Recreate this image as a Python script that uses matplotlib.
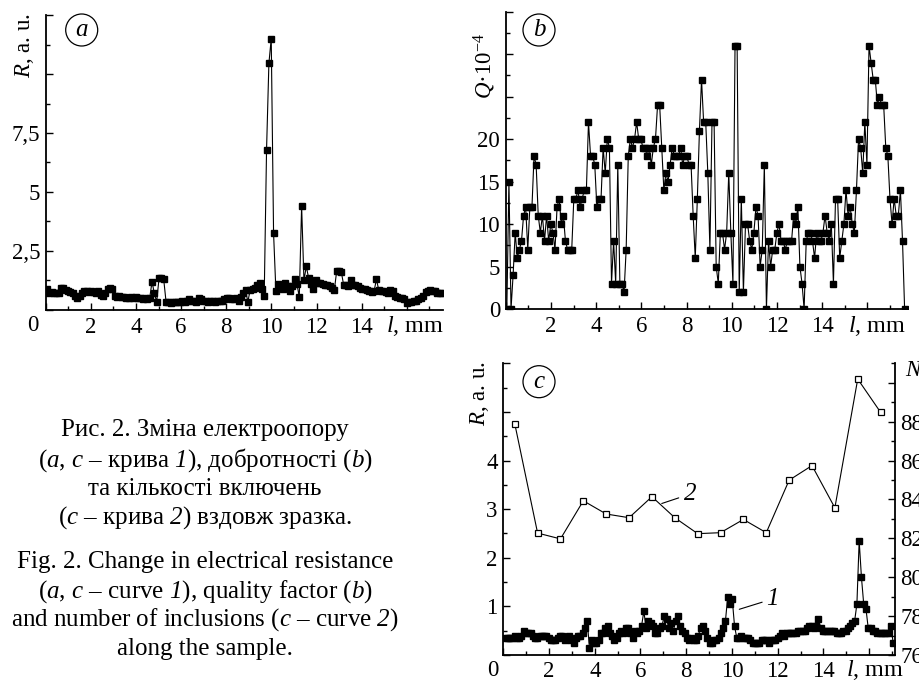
import numpy as np
import matplotlib
matplotlib.use("Agg")
import matplotlib.pyplot as plt
from matplotlib.ticker import MultipleLocator, FixedLocator, FixedFormatter

plt.rcParams['font.family'] = ['Liberation Serif', 'DejaVu Serif']
plt.rcParams['font.size'] = 16.5
plt.rcParams['mathtext.fontset'] = 'custom'
plt.rcParams['mathtext.rm'] = 'Liberation Serif'
plt.rcParams['mathtext.it'] = 'Liberation Serif:italic'
plt.rcParams['mathtext.sf'] = 'Liberation Serif:italic'

# ---------------- data ----------------
# panel a: resistance R (a.u.) along sample, l from 0.05 to 17.55 mm
a_l_start, a_l_end = 0.05, 17.55
a_R = [0.9,0.7,0.75,0.7,0.7,0.7,0.95,0.95,0.85,0.8,0.75,0.7,0.6,0.5,0.6,0.7,0.8,0.8,0.75,0.8,
       0.75,0.7,0.8,0.65,0.6,0.7,0.9,0.95,0.9,0.6,0.55,0.6,0.55,0.55,0.5,0.5,0.55,0.5,0.55,0.5,
       0.5,0.45,0.5,0.45,0.5,1.2,0.7,0.35,1.35,1.35,1.3,0.35,0.35,0.3,0.35,0.35,0.35,0.35,0.4,0.35,
       0.4,0.45,0.4,0.4,0.35,0.5,0.45,0.4,0.4,0.35,0.4,0.4,0.35,0.4,0.4,0.4,0.45,0.5,0.5,0.45,
       0.45,0.5,0.4,0.55,0.7,0.85,0.35,0.85,0.9,0.95,1.05,1.15,0.9,0.6,6.8,10.45,11.5,3.25,0.8,1.1,
       1.05,0.9,1.15,1.0,0.8,1.0,1.3,1.1,0.55,4.4,1.25,1.85,1.35,1.1,0.9,1.25,1.15,1.15,1.1,1.05,
       1.05,1.0,0.95,0.85,1.65,1.65,1.6,1.05,1.05,1.0,1.25,1.05,1.05,1.0,0.95,0.9,0.9,0.85,0.8,0.75,
       0.8,1.3,0.85,0.8,0.8,0.75,0.7,0.85,0.8,0.6,0.55,0.5,0.5,0.45,0.3,0.35,0.35,0.4,0.4,0.45,
       0.5,0.6,0.75,0.8,0.85,0.8,0.8,0.7,0.7,0.7]

# panel b: quality factor Q*1e-4, l from 0.05 to 17.65 mm
b_l_start, b_l_end = 0.05, 17.65
b_Q = [0,15,0,4,9,6,7,8,11,12,7,12,12,18,17,11,9,11,8,11,8,10,9,7,12,13,10,11,8,7,
       7,7,13,13,14,12,13,14,14,22,18,18,17,12,13,13,19,16,20,19,3,8,3,17,3,3,2,7,18,20,
       19,20,22,20,20,19,19,18,19,17,19,20,24,24,19,14,16,15,17,19,18,18,18,19,17,18,18,17,17,11,
       6,13,21,27,22,22,16,7,22,22,5,3,9,9,7,9,16,9,3,31,31,2,13,2,10,10,8,7,9,12,
       11,5,7,17,0,8,5,7,7,9,10,8,8,7,8,8,8,11,10,12,5,3,0,8,9,9,8,6,9,8,
       8,9,11,9,8,10,3,13,13,6,8,10,14,11,12,10,9,14,20,19,16,22,17,31,29,27,27,24,25,24,
       24,19,18,13,10,13,11,11,14,8,0]

# panel c, curve 1: R (a.u.), l from 0.1 to 17.05 mm
c_l_start, c_l_end = 0.1, 17.05
c_R1 = [0.35,0.35,0.35,0.35,0.4,0.35,0.35,0.4,0.5,0.45,0.45,0.45,0.4,0.35,0.35,0.4,0.4,0.4,0.4,0.35,
        0.3,0.3,0.3,0.35,0.4,0.4,0.3,0.35,0.4,0.3,0.25,0.35,0.4,0.4,0.45,0.55,0.7,0.15,0.3,0.25,
        0.25,0.3,0.45,0.45,0.55,0.6,0.45,0.4,0.3,0.35,0.45,0.5,0.45,0.55,0.55,0.45,0.35,0.5,0.45,0.5,
        0.6,0.9,0.55,0.7,0.65,0.6,0.45,0.45,0.55,0.6,0.8,0.75,0.55,0.65,0.5,0.7,0.8,0.6,0.5,0.45,
        0.35,0.3,0.35,0.3,0.3,0.4,0.55,0.6,0.5,0.35,0.25,0.25,0.3,0.3,0.35,0.45,0.55,0.7,1.2,1.05,
        1.15,0.6,0.35,0.35,0.4,0.35,0.35,0.35,0.3,0.25,0.25,0.25,0.25,0.3,0.3,0.3,0.25,0.3,0.3,0.3,
        0.35,0.4,0.45,0.4,0.45,0.45,0.45,0.45,0.45,0.5,0.5,0.5,0.5,0.55,0.6,0.6,0.55,0.6,0.75,0.55,
        0.5,0.5,0.5,0.5,0.5,0.5,0.45,0.45,0.45,0.5,0.5,0.55,0.6,0.65,0.7,1.05,2.35,1.6,1.05,0.95,
        0.55,0.55,0.5,0.5,0.45,0.45,0.45,0.45,0.45,0.45,0.6,0.25]

# panel c, curve 2: number of inclusions N
c_l2 = [0.5,1.5,2.5,3.5,4.5,5.5,6.5,7.5,8.5,9.5,10.5,11.5,12.5,13.5,14.5,15.5,16.5]
c_N = [87.9,82.27,81.97,83.93,83.25,83.06,84.14,83.06,82.24,82.29,82.97,82.29,84.99,85.74,83.57,90.19,88.48]

x_major = [0,2,4,6,8,10,12,14,16]
x_labels = ['','2','4','6','8','10','12','14','']

# ---------------- figure ----------------
W, H = 920, 680
FS = 16.5     # axis text size
CFS = 18      # caption size
fig = plt.figure(figsize=(W/100, H/100), dpi=100)

def rect(l, t, r, b):
    return [l/W, 1-b/H, (r-l)/W, (b-t)/H]

def ftext(x, y, s, **kw):
    fig.text(x/W, 1-y/H, s, **kw)

def style(ax):
    for s in ['top', 'right']:
        ax.spines[s].set_visible(False)
    for s in ['left', 'bottom']:
        ax.spines[s].set_linewidth(1.3)
    ax.tick_params(which='both', direction='in', width=1.0, labelsize=FS)
    ax.tick_params(which='major', length=5)
    ax.tick_params(which='minor', length=3)
    ax.tick_params(axis='x', pad=5)
    ax.tick_params(axis='y', pad=4)
    ax.xaxis.set_major_locator(FixedLocator(x_major))
    ax.xaxis.set_major_formatter(FixedFormatter(x_labels))
    ax.xaxis.set_minor_locator(MultipleLocator(1))

def circ(x, y, s):
    ftext(x, y, s, ha='center', va='center', fontstyle='italic', fontsize=18,
          bbox=dict(boxstyle='circle,pad=0.2', fc='white', ec='black', lw=0.9))

mk = dict(color='black', lw=0.8, marker='s', ms=4.6, mfc='black', mec='black')

# panel a
axA = fig.add_axes(rect(45.7, 15, 443, 310))
style(axA)
xa = np.linspace(a_l_start, a_l_end, len(a_R))
axA.plot(xa, a_R, **mk)
axA.set_xlim(0, 17.6)
axA.set_ylim(0, 12.5)
axA.yaxis.set_major_locator(FixedLocator([0, 2.5, 5, 7.5, 10, 12.5]))
axA.yaxis.set_major_formatter(FixedFormatter(['', '2,5', '5', '7,5', '', '']))
axA.yaxis.set_minor_locator(MultipleLocator(1.25))
ftext(33, 325, '0', ha='center', va='center', fontsize=FS)
ftext(415, 326, '$l$, mm', ha='center', va='center', fontsize=17.5)
ftext(25, 46, '$R$, a. u.', ha='center', va='center', rotation=90, fontsize=FS)
circ(81.7, 30, 'a')

# panel b
axB = fig.add_axes(rect(505.7, 11.7, 908, 309))
style(axB)
xb = np.linspace(b_l_start, b_l_end, len(b_Q))
axB.plot(xb, b_Q, **mk)
axB.set_xlim(0, 17.8)
axB.set_ylim(0, 35)
axB.yaxis.set_major_locator(FixedLocator([0, 5, 10, 15, 20, 25, 30, 35]))
axB.yaxis.set_major_formatter(FixedFormatter(['0', '5', '10', '15', '20', '', '', '']))
axB.yaxis.set_minor_locator(MultipleLocator(2.5))
ftext(877, 326, '$l$, mm', ha='center', va='center', fontsize=17.5)
ftext(485, 66, '$Q$·10$^{-4}$', ha='center', va='center', rotation=90, fontsize=FS)
circ(539, 30, 'b')

# panel c
axC = fig.add_axes(rect(503.3, 363.3, 895, 655))
style(axC)
xc = np.linspace(c_l_start, c_l_end, len(c_R1))
axC.plot(xc, c_R1, **mk)
axC.set_xlim(0, 17.13)
axC.set_ylim(0, 6)
axC.yaxis.set_major_locator(FixedLocator([0, 1, 2, 3, 4, 5, 6]))
axC.yaxis.set_major_formatter(FixedFormatter(['', '1', '2', '3', '4', '', '']))
axC.yaxis.set_minor_locator(MultipleLocator(0.5))
axC.tick_params(axis='x', pad=4)

axN = axC.twinx()
axN.set_position(rect(503.3, 363.3, 895, 655))
for s in ['top', 'left', 'bottom']:
    axN.spines[s].set_visible(False)
axN.spines['right'].set_linewidth(1.3)
axN.plot(c_l2, c_N, color='black', lw=0.8, marker='s', ms=5, mfc='white', mec='black', mew=0.9)
axN.set_ylim(76, 91)
axN.yaxis.set_major_locator(FixedLocator([76, 78, 80, 82, 84, 86, 88, 90]))
axN.yaxis.set_major_formatter(FixedFormatter(['76', '78', '80', '82', '84', '86', '88', '']))
axN.yaxis.set_minor_locator(MultipleLocator(1))
axN.tick_params(which='both', direction='in', width=1.0, labelsize=FS, pad=4)
axN.tick_params(which='major', length=5)
axN.tick_params(which='minor', length=3)

axN.annotate('$\\mathsf{2}$', xy=(6.93, 83.79), xytext=(7.85, 84.27), ha='left', va='center',
             fontsize=18, arrowprops=dict(arrowstyle='-', lw=0.8, color='black', shrinkA=1, shrinkB=0))
axC.annotate('$\\mathsf{1}$', xy=(10.32, 0.94), xytext=(11.5, 1.15), ha='left', va='center',
             fontsize=18, arrowprops=dict(arrowstyle='-', lw=0.8, color='black', shrinkA=1, shrinkB=0))

ftext(493, 670, '0', ha='center', va='center', fontsize=FS)
ftext(875, 670, '$l$, mm', ha='center', va='center', fontsize=17.5)
ftext(480, 394, '$R$, a. u.', ha='center', va='center', rotation=90, fontsize=FS)
ftext(905, 371, '$N$', ha='left', va='center', fontsize=FS)
circ(539, 381.7, 'c')

# caption
cap_ua = ['Рис. 2. Зміна електроопору',
          '($a$, $c$ – крива $\\mathsf{1}$), добротності ($b$)',
          'та кількості включень',
          '($c$ – крива $\\mathsf{2}$) вздовж зразка.']
cap_en = ['Fig. 2. Change in electrical resistance',
          '($a$, $c$ – curve $\\mathsf{1}$), quality factor ($b$)',
          'and number of inclusions ($c$ – curve $\\mathsf{2}$)',
          'along the sample.']
for s, y in zip(cap_ua, [430, 460, 489, 518]):
    ftext(205, y, s, ha='center', va='center', fontsize=CFS)
for s, y in zip(cap_en, [562, 592, 620, 649]):
    ftext(205, y, s, ha='center', va='center', fontsize=CFS)

fig.savefig('out.png', dpi=100)
